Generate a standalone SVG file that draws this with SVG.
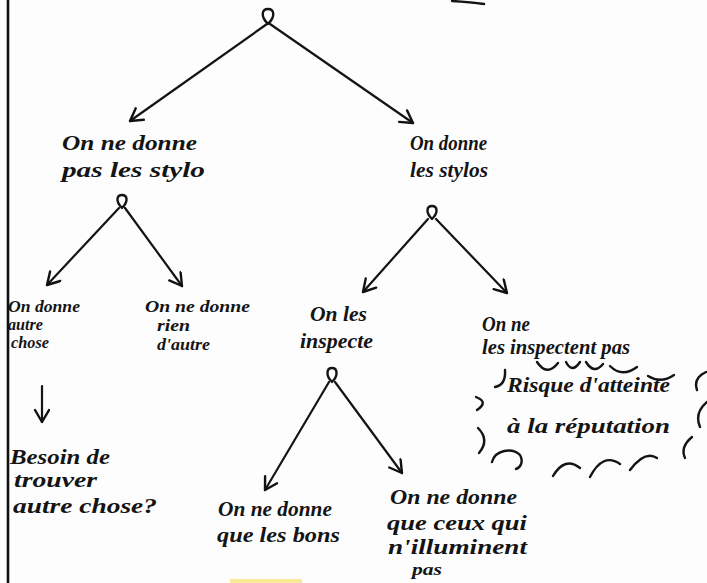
<svg xmlns="http://www.w3.org/2000/svg" width="707" height="583" viewBox="0 0 707 583">
  <defs>
    <marker id="arrow" markerUnits="userSpaceOnUse" markerWidth="20" markerHeight="20" refX="14" refY="8" orient="auto">
      <path d="M2,1 L14,8 L2,15" fill="none" stroke="#111" stroke-width="2.4" stroke-linecap="round" stroke-linejoin="round"/>
    </marker>
    <style>
      .hand { font-family: "Liberation Serif", "DejaVu Serif", serif; font-style: italic; font-weight: bold; font-size: 21px; fill: #141414; }
      .small { font-size: 16px; }
      .ink { fill: none; stroke: #141414; stroke-width: 2.4; stroke-linecap: round; stroke-linejoin: round; }
      .edge { fill: none; stroke: #141414; stroke-width: 2.2; stroke-linecap: round; marker-end: url(#arrow); }
    </style>
  </defs>

  <!-- paper -->
  <rect x="0" y="0" width="707" height="583" fill="#fdfdfd"/>
  <!-- page edge on the left -->
  <line x1="8" y1="0" x2="8" y2="583" stroke="#111" stroke-width="2.6"/>
  <!-- stroke cut off by the top edge -->
  <path class="ink" d="M452,1 Q470,2 484,4" stroke-width="3"/>
  <!-- yellow highlighter at the bottom -->
  <rect x="230" y="579" width="72" height="4" fill="#f7e37a" opacity="0.8"/>

  <!-- connectors -->
  <g id="connectors">
    <path class="edge" d="M267,24 L130,121"/>
    <path class="edge" d="M270,24 L413,123"/>
    <path class="edge" d="M119,208 L47,285"/>
    <path class="edge" d="M125,208 L182,286"/>
    <path class="edge" d="M428,219 L363,292"/>
    <path class="edge" d="M436,219 L507,293"/>
    <path class="edge" d="M42,386 L42,422"/>
    <path class="edge" d="M329,382 L265,490"/>
    <path class="edge" d="M335,382 L402,473"/>
  </g>

  <!-- root choice point -->
  <g id="root">
    <path class="ink" d="M268,24 C260,16 262,9 268,9 C274,9 276,16 268,24"/>
  </g>

  <g id="pas-les-stylos">
    <text class="hand" x="62" y="150" textLength="135" lengthAdjust="spacingAndGlyphs">On ne donne</text>
    <text class="hand" x="62" y="177" textLength="143" lengthAdjust="spacingAndGlyphs">pas les stylo</text>
    <path class="ink" d="M122,208 C115,201 117,195 122,195 C127,195 129,201 122,208"/>
  </g>

  <g id="les-stylos">
    <text class="hand" x="410" y="150" textLength="77" lengthAdjust="spacingAndGlyphs">On donne</text>
    <text class="hand" x="410" y="177" textLength="78" lengthAdjust="spacingAndGlyphs">les stylos</text>
    <path class="ink" d="M432,219 C425,212 427,206 432,206 C437,206 439,212 432,219"/>
  </g>

  <g id="autre-chose">
    <text class="hand small" x="8" y="312" textLength="72" lengthAdjust="spacingAndGlyphs">On donne</text>
    <text class="hand small" x="8" y="330" textLength="35" lengthAdjust="spacingAndGlyphs">autre</text>
    <text class="hand small" x="11" y="348" textLength="38" lengthAdjust="spacingAndGlyphs">chose</text>
  </g>

  <g id="rien-d-autre">
    <text class="hand small" x="145" y="312" textLength="105" lengthAdjust="spacingAndGlyphs">On ne donne</text>
    <text class="hand small" x="157" y="331" textLength="33" lengthAdjust="spacingAndGlyphs">rien</text>
    <text class="hand small" x="157" y="350" textLength="53" lengthAdjust="spacingAndGlyphs">d'autre</text>
  </g>

  <g id="besoin">
    <text class="hand" x="10" y="464" textLength="100" lengthAdjust="spacingAndGlyphs">Besoin de</text>
    <text class="hand" x="14" y="487" textLength="83" lengthAdjust="spacingAndGlyphs">trouver</text>
    <text class="hand" x="13" y="513" textLength="144" lengthAdjust="spacingAndGlyphs">autre chose?</text>
  </g>

  <g id="inspecte">
    <text class="hand" x="310" y="321" textLength="57" lengthAdjust="spacingAndGlyphs">On les</text>
    <text class="hand" x="300" y="348" textLength="73" lengthAdjust="spacingAndGlyphs">inspecte</text>
    <path class="ink" d="M332,382 C325,375 327,368 332,368 C337,368 339,375 332,382"/>
  </g>

  <g id="pas-inspectes">
    <text class="hand" x="482" y="331" textLength="48" lengthAdjust="spacingAndGlyphs">On ne</text>
    <text class="hand" x="482" y="354" textLength="148" lengthAdjust="spacingAndGlyphs">les inspectent pas</text>
  </g>

  <!-- scalloped cloud round the risk note -->
  <g id="risque">
    <path class="ink" d="M505,370 Q506,385 495,387"/>
    <path class="ink" d="M537,362 Q547,377 558,363"/>
    <path class="ink" d="M566,362 Q572,374 580,362"/>
    <path class="ink" d="M586,362 Q594,375 603,364"/>
    <path class="ink" d="M610,366 Q622,378 637,367"/>
    <path class="ink" d="M648,376 Q661,384 674,375"/>
    <path class="ink" d="M706,372 Q693,378 697,390"/>
    <path class="ink" d="M707,402 Q694,413 700,427"/>
    <path class="ink" d="M692,437 Q680,447 685,458"/>
    <path class="ink" d="M476,397 Q489,402 477,410"/>
    <path class="ink" d="M478,428 Q490,440 479,453"/>
    <path class="ink" d="M492,462 C495,450 512,447 520,455 C524,462 520,468 516,469"/>
    <path class="ink" d="M553,476 Q565,456 580,468"/>
    <path class="ink" d="M590,477 Q603,452 620,464"/>
    <path class="ink" d="M630,470 Q645,450 657,458"/>
    <text class="hand" x="507" y="392" textLength="163" lengthAdjust="spacingAndGlyphs">Risque d'atteinte</text>
    <text class="hand" x="507" y="433" textLength="163" lengthAdjust="spacingAndGlyphs">à la réputation</text>
  </g>

  <g id="que-les-bons">
    <text class="hand" x="218" y="516" textLength="114" lengthAdjust="spacingAndGlyphs">On ne donne</text>
    <text class="hand" x="217" y="542" textLength="123" lengthAdjust="spacingAndGlyphs">que les bons</text>
  </g>

  <g id="n-illuminent-pas">
    <text class="hand" x="390" y="504" textLength="127" lengthAdjust="spacingAndGlyphs">On ne donne</text>
    <text class="hand" x="387" y="530" textLength="140" lengthAdjust="spacingAndGlyphs">que ceux qui</text>
    <text class="hand" x="388" y="554" textLength="139" lengthAdjust="spacingAndGlyphs">n'illuminent</text>
    <text class="hand small" x="412" y="575" textLength="30" lengthAdjust="spacingAndGlyphs">pas</text>
  </g>
</svg>
